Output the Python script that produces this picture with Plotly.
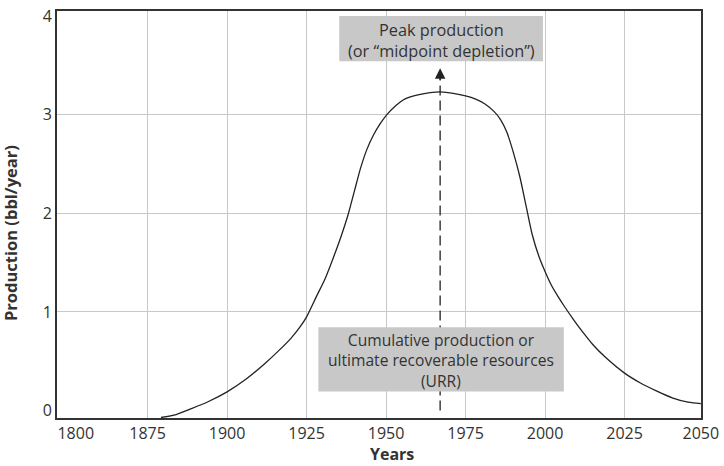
import plotly.graph_objects as go

# ---- data ----
years = [1879.2, 1884, 1888, 1894, 1900, 1906, 1912, 1916, 1920, 1923, 1925,
         1928, 1931, 1934, 1936, 1938, 1940, 1942, 1944, 1946, 1948, 1950,
         1953, 1956, 1960, 1967, 1972, 1975, 1978, 1981, 1984, 1986, 1988,
         1990, 1992, 1994, 1996, 1998, 2000, 2002, 2004, 2006, 2009, 2012,
         2015, 2019, 2025, 2030, 2035, 2040, 2045, 2049]
production = [-0.07, -0.04, 0.01, 0.09, 0.19, 0.32, 0.48, 0.60, 0.73, 0.85, 0.95,
              1.15, 1.35, 1.60, 1.78, 1.98, 2.22, 2.46, 2.65, 2.79, 2.90, 2.99,
              3.09, 3.16, 3.20, 3.23, 3.21, 3.19, 3.16, 3.11, 3.03, 2.95, 2.82,
              2.62, 2.38, 2.08, 1.78, 1.57, 1.41, 1.27, 1.16, 1.06, 0.92, 0.79,
              0.67, 0.54, 0.38, 0.28, 0.20, 0.13, 0.085, 0.07]

x_tick_vals = [1852.4, 1875, 1900, 1925, 1950, 1975, 2000, 2025, 2049]
x_tick_text = ["1800", "1875", "1900", "1925", "1950", "1975", "2000", "2025", "2050"]
x_grid_vals = [1875, 1900, 1925, 1950, 1975, 2000, 2025]
y_tick_vals = [0, 1, 2, 3, 4]
y_grid_vals = [1, 2, 3]

peak_year = 1967.0
peak_label = ["Peak production", "(or \u201cmidpoint depletion\u201d)"]
urr_label = ["Cumulative production or", "ultimate recoverable resources", "(URR)"]

# ---- layout geometry (pixels) ----
W, H = 724, 466
L, R, T, B = 57, 19, 5, 48
PW, PH = W - L - R, H - T - B

def px(xp):
    return (xp - L) / PW

def py(yp):
    return (H - B - yp) / PH

FONT = "Open Sans"
TXT = "#333333"
BOX = "#c8c8c8"

fig = go.Figure()
fig.add_trace(go.Scatter(
    x=years, y=production, mode="lines",
    line=dict(color="#222222", width=1.3, shape="spline", smoothing=0.8),
    hoverinfo="skip", showlegend=False,
))

shapes = [
    dict(type="line", xref="x", yref="y", x0=peak_year, x1=peak_year, y0=0.0, y1=3.36,
         line=dict(color="#222222", width=1.3, dash="10px,5px")),
    dict(type="rect", xref="paper", yref="paper", x0=px(341), x1=px(546), y0=py(56), y1=py(10),
         fillcolor=BOX, line=dict(width=0)),
    dict(type="rect", xref="paper", yref="paper", x0=px(320), x1=px(567), y0=py(391), y1=py(326),
         fillcolor=BOX, line=dict(width=0)),
]

annotations = [
    dict(x=peak_year, y=3.47, xref="x", yref="y", ax=0, ay=13, showarrow=True,
         arrowhead=2, arrowsize=1.4, arrowwidth=1.5, arrowcolor="#222222", text=""),
    dict(x=px(443.5), y=py(34.5), xref="paper", yref="paper",
         text="<br>".join(peak_label), showarrow=False, xanchor="center", yanchor="middle",
         align="center", font=dict(family=FONT, size=16.3, color=TXT)),
    dict(x=px(443.5), y=py(359.5), xref="paper", yref="paper",
         text="<br>".join(urr_label), showarrow=False, xanchor="center", yanchor="middle",
         align="center", font=dict(family=FONT, size=15.6, color=TXT)),
    dict(x=px(394), y=py(455), xref="paper", yref="paper", text="<b>Years</b>",
         showarrow=False, xanchor="center", yanchor="middle",
         font=dict(family=FONT, size=16, color=TXT)),
    dict(x=px(10), y=py(230), xref="paper", yref="paper",
         text="<b>Production (bbl/year)</b>", textangle=-90,
         showarrow=False, xanchor="center", yanchor="middle",
         font=dict(family=FONT, size=16.5, color=TXT)),
]

fig.update_layout(
    width=W, height=H,
    margin=dict(l=L, r=R, t=T, b=B, pad=0),
    paper_bgcolor="white", plot_bgcolor="white",
    shapes=shapes, annotations=annotations,
    font=dict(family=FONT, size=16, color=TXT),
    xaxis=dict(range=[1846.5, 2049.05], tickmode="array", tickvals=x_tick_vals,
               ticktext=x_tick_text, showgrid=False, zeroline=False,
               showline=True, linecolor="#333333", linewidth=2, mirror=True, ticks="",
               minor=dict(tickmode="array", tickvals=x_grid_vals, showgrid=True,
                          gridcolor="#c8c8c8", gridwidth=1, ticks=""),
               tickfont=dict(family=FONT, size=16, color=TXT)),
    yaxis=dict(range=[-0.075, 4.05], tickmode="array", tickvals=y_tick_vals,
               showgrid=False, zeroline=False,
               showline=True, linecolor="#333333", linewidth=2, mirror=True, ticks="",
               minor=dict(tickmode="array", tickvals=y_grid_vals, showgrid=True,
                          gridcolor="#c8c8c8", gridwidth=1, ticks=""),
               tickfont=dict(family=FONT, size=16, color=TXT)),
)

fig.write_html("out.html")
